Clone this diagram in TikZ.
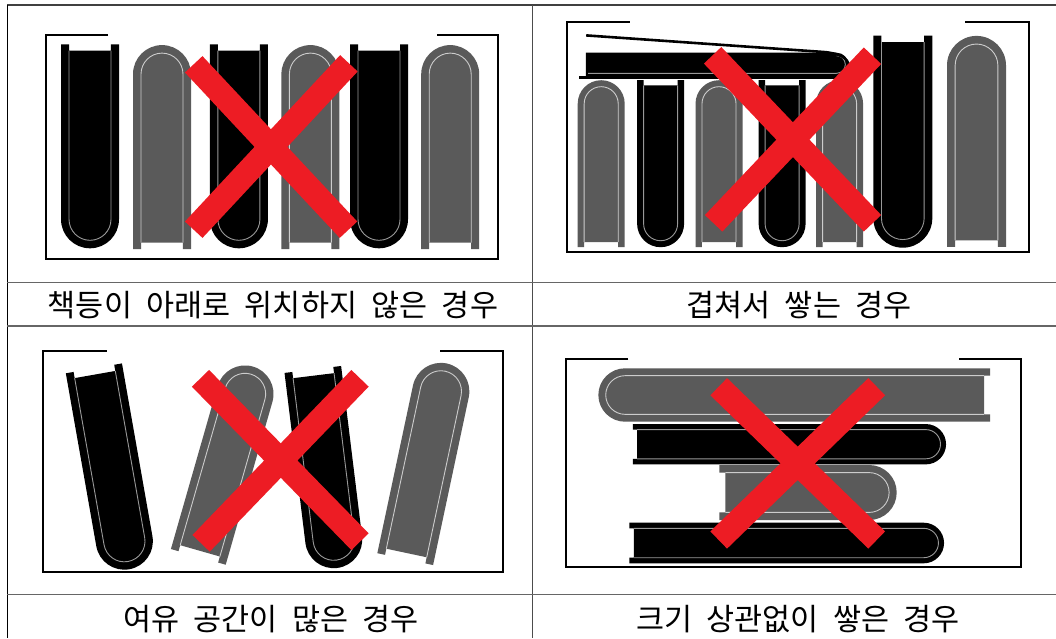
\documentclass[tikz,border=0pt]{standalone}
\usepackage{fontspec}
\newfontfamily\cjk[WordSpace=2.1]{Noto Sans CJK KR}
\definecolor{bookgray}{HTML}{5A5A5A}
\definecolor{xred}{HTML}{ED1C24}
\definecolor{gridgray}{HTML}{666666}

% A book seen from its end: U shape with the spine at local bottom.
% #1,#2 centre (x, y measured downwards), #3 rotation, #4 thickness, #5 length, #6 black|gray
\newcommand{\drawbook}[6]{%
  \begin{scope}[shift={(#1,-#2)},rotate=#3]
    \pgfmathsetmacro\ba{#4/2}
    \pgfmathsetmacro\bb{#5/2}
    \pgfmathsetmacro\bc{#4*0.138}
    \pgfmathsetmacro\bg{#4*0.11}
    \pgfmathsetmacro\br{\ba-\bc}
    \fill[#6cover] (-\ba,\bb) -- (-\ba,{-\bb+\ba})
      arc[start angle=180,end angle=360,radius=\ba] -- (\ba,\bb)
      -- ({\ba-\bc},\bb) -- ({\ba-\bc},{\bb-\bg}) -- ({-\ba+\bc},{\bb-\bg})
      -- ({-\ba+\bc},\bb) -- cycle;
    \draw[#6pages] ({-\ba+\bc},{\bb-\bg}) -- ({-\ba+\bc},{-\bb+\ba})
      arc[start angle=180,end angle=360,radius=\br] -- ({\ba-\bc},{\bb-\bg});
  \end{scope}}

% Shelf outline with an open gap in the top edge
\newcommand{\drawshelf}[6]{%
  \draw[shelf] (#5,-#2) -- (#1,-#2) -- (#1,-#4) -- (#3,-#4) -- (#3,-#2) -- (#6,-#2);}

\begin{document}
\begin{tikzpicture}[x=1pt,y=1pt,
  blackcover/.style={fill=black},
  blackpages/.style={draw=black!40,line width=0.9pt},
  graycover/.style={fill=bookgray},
  graypages/.style={draw=black!20,line width=0.9pt},
  shelf/.style={draw=black,line width=2.2pt},
  cross/.style={draw=xred,line width=24pt,line cap=butt},
  rule/.style={draw=gridgray,line width=1.3pt},
  caption/.style={font=\cjk\fontsize{30.5}{36}\selectfont,inner sep=0pt}]

\useasboundingbox (0,0) rectangle (1056,-638);
\fill[white] (0,0) rectangle (1056,-638);

% ---- table rules ----
\draw[draw=black!75,line width=2pt] (7.3,-5) -- (1056,-5);
\draw[draw=black,line width=1.3pt] (7.3,-5) -- (7.3,-638);
\draw[draw=black!70,line width=1.3pt] (532.8,-5) -- (532.8,-638);
\draw[rule] (7.3,-282.7) -- (1056,-282.7);
\draw[rule] (7.3,-326) -- (1056,-326);
\draw[rule] (7.3,-594.3) -- (1056,-594.3);

% ---- spines not facing out ----
\drawshelf{45.6}{35}{497.6}{258.7}{108.2}{437.1}
\drawbook{90}{146.3}{0}{58}{204}{black}
\drawbook{162}{147.1}{180}{58}{204}{gray}
\drawbook{238.9}{146.3}{0}{58}{204}{black}
\drawbook{310.4}{147.1}{180}{58}{204}{gray}
\drawbook{379}{146.3}{0}{58}{204}{black}
\drawbook{450.2}{147.1}{180}{58}{204}{gray}
\coordinate (a1) at (193.7,-64.3);  \coordinate (a2) at (348.5,-229.7);
\coordinate (a3) at (348.9,-63.3);  \coordinate (a4) at (193.7,-229.7);
\draw[cross] (a1) -- (a2);
\draw[cross] (a3) -- (a4);
\node[caption] (cap1) at (273,-305) {책등이 아래로 위치하지 않은 경우};

% ---- stacked on top ----
\drawshelf{566.6}{22.3}{1028.7}{252.3}{629.8}{964.8}
\drawbook{601.2}{163.7}{180}{47}{167}{gray}
\drawbook{660.6}{163.7}{0}{47}{167}{black}
\drawbook{719}{163.7}{180}{47}{167}{gray}
\drawbook{782.1}{163.7}{0}{47}{167}{black}
\drawbook{839.6}{163.7}{180}{47}{167}{gray}
\drawbook{902.8}{141.7}{0}{59}{212}{black}
\drawbook{976.5}{141.4}{180}{59}{211}{gray}
% book lying across the others, its cover lifted
\fill[black] (585.8,-52.7) -- (836.5,-52.7) arc[start angle=90,end angle=-90,radius=11.8]
  -- (585.8,-76.3) -- cycle;
\draw[blackpages] (588,-73.3) -- (836.5,-73.3) arc[start angle=-90,end angle=90,radius=8.8];
\draw[line width=2.6pt] (579.4,-77.6) -- (837,-77.6);
\draw[line width=2.6pt] (586.2,-35.4) -- (824,-52) .. controls (840,-53.5) and (848,-58) .. (849,-66);
\coordinate (b1) at (712.6,-55.3);  \coordinate (b2) at (872.5,-223.3);
\coordinate (b3) at (872.5,-55.7);  \coordinate (b4) at (713.6,-223.3);
\draw[cross] (b1) -- (b2);
\draw[cross] (b3) -- (b4);
\node[caption] (cap2) at (799,-305) {겹쳐서 쌓는 경우};

% ---- too much free space ----
\drawshelf{42.9}{350.7}{502.7}{571.7}{106.8}{439.5}
\drawbook{111.6}{468.8}{10}{57}{204}{black}
\drawbook{225.6}{461.7}{164}{57}{198}{gray}
\drawbook{325}{468.7}{7}{57}{200}{black}
\drawbook{426}{461.3}{168}{57}{200}{gray}
\coordinate (c1) at (200.5,-378.3);  \coordinate (c2) at (360,-541.7);
\coordinate (c3) at (360,-378.3);    \coordinate (c4) at (201.1,-543.3);
\draw[cross] (c1) -- (c2);
\draw[cross] (c3) -- (c4);
\node[caption] (cap3) at (271,-619) {여유 공간이 많은 경우};

% ---- stacked regardless of size ----
\drawshelf{565.6}{359.3}{1021.3}{566.7}{628.4}{959.4}
\drawbook{794.2}{395}{-90}{53.4}{391.7}{gray}
\drawbook{789.4}{444.2}{90}{40.3}{313.3}{black}
\drawbook{808}{492.5}{90}{55}{177.4}{gray}
\drawbook{786.7}{543}{90}{40.6}{314.7}{black}
\coordinate (d1) at (718.7,-386.7);  \coordinate (d2) at (876.7,-540);
\coordinate (d3) at (876.7,-386.7);  \coordinate (d4) at (718.7,-540);
\draw[cross] (d1) -- (d2);
\draw[cross] (d3) -- (d4);
\node[caption] (cap4) at (798,-619) {크기 상관없이 쌓은 경우};

\end{tikzpicture}
\end{document}
